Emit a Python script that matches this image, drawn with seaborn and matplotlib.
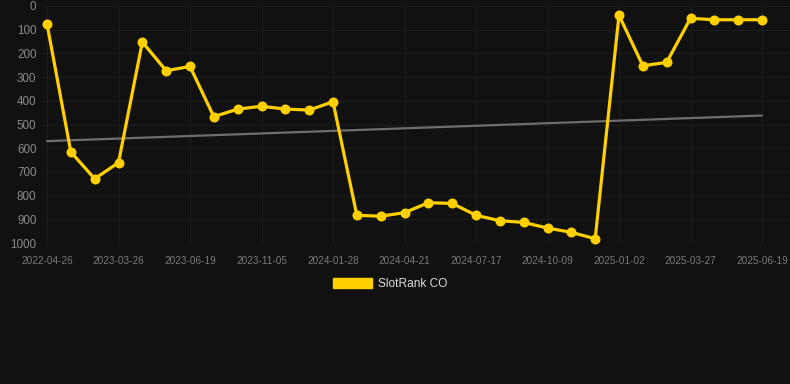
import numpy as np
import pandas as pd
import matplotlib
matplotlib.use("Agg")
import matplotlib.pyplot as plt
from matplotlib.patches import Patch
import seaborn as sns

# dates of each rank snapshot (only every 3rd is labelled on the axis)
dates = ["2022-04-26", "2022-08-16", "2022-12-05", "2023-03-26", "2023-04-23",
         "2023-05-21", "2023-06-19", "2023-08-05", "2023-09-20", "2023-11-05",
         "2023-12-06", "2024-01-01", "2024-01-28", "2024-02-25", "2024-03-24",
         "2024-04-21", "2024-05-20", "2024-06-18", "2024-07-17", "2024-08-14",
         "2024-09-11", "2024-10-09", "2024-11-06", "2024-12-04", "2025-01-02",
         "2025-01-30", "2025-02-27", "2025-03-27", "2025-04-24", "2025-05-22",
         "2025-06-19"]
rank = [75, 616, 729, 661, 152, 273, 255, 467, 435, 423, 435, 439, 404,
        883, 887, 872, 830, 833, 883, 906, 913, 937, 955, 982,
        39, 252, 238, 52, 58, 58, 58]
y_ticks = [0, 100, 200, 300, 400, 500, 600, 700, 800, 900, 1000]
series_name = "SlotRank CO"

bg = "#111111"
yellow = "#FFD000"

sns.set_style("dark")
plt.rcParams["font.family"] = ["Liberation Sans", "DejaVu Sans"]

df = pd.DataFrame({"idx": np.arange(len(dates)), "date": dates, "rank": rank})

fig = plt.figure(figsize=(7.9, 3.84), dpi=100, facecolor=bg)
ax = fig.add_axes([42 / 790, 1 - 243 / 384, 748 / 790, 237 / 384])
ax.set_facecolor(bg)

# linear trend of the ranks
coef = np.polyfit(df["idx"], df["rank"], 1)
df["trend"] = np.polyval(coef, df["idx"])
sns.lineplot(data=df, x="idx", y="trend", ax=ax, color="#6e6e6e", linewidth=1.6)

sns.lineplot(data=df, x="idx", y="rank", ax=ax, color=yellow, linewidth=2.3,
             marker="o", markersize=7.2, markeredgewidth=0, clip_on=False)

unit = 715 / 30
ax.set_xlim(-5 / unit, 30 + 28 / unit)
ax.set_ylim(1000, 0)
ax.set_yticks(y_ticks)
ax.set_yticklabels([str(v) for v in y_ticks])
ax.set_xticks(df["idx"][::3])
ax.set_xticklabels(df["date"][::3])
ax.set_xlabel("")
ax.set_ylabel("")

ax.grid(True, color="#1d1d1d", linewidth=0.8)
for s in ax.spines.values():
    s.set_visible(False)
ax.tick_params(axis="x", colors="#1d1d1d", length=5, width=0.8, pad=4,
               labelcolor="#7a7a7a", labelsize=7.2)
ax.tick_params(axis="y", length=0, pad=4, labelcolor="#8a8a8a", labelsize=8.4)

fig.legend(handles=[Patch(facecolor=yellow, edgecolor=yellow, label=series_name)],
           loc="center", bbox_to_anchor=(390 / 790, 1 - 284 / 384), frameon=False,
           handlelength=3.3, handleheight=1.0, handletextpad=0.5,
           labelcolor="#dddddd", fontsize=8.6)

fig.savefig("out.png", dpi=100, facecolor=bg)
